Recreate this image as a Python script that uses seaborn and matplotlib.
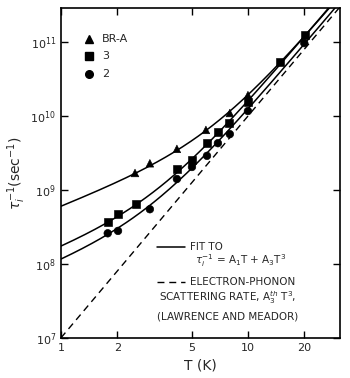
import numpy as np
import pandas as pd
import matplotlib
matplotlib.use("Agg")
import matplotlib.pyplot as plt
import seaborn as sns

# ---- data ----
T_bra = [2.49, 2.99, 4.17, 5.96, 8.0, 10.0]
rate_bra = [1.7e9, 2.3e9, 3.6e9, 6.5e9, 1.1e10, 1.92e10]

T_s3 = [1.78, 2.02, 2.52, 4.17, 5.02, 6.04, 6.91, 7.91, 10.0, 14.8, 20.2]
rate_s3 = [3.7e8, 4.7e8, 6.5e8, 1.92e9, 2.54e9, 4.3e9, 6.1e9, 8.0e9, 1.55e10, 5.4e10, 1.24e11]

T_s2 = [1.78, 2.02, 2.99, 4.17, 5.02, 6.04, 6.91, 8.0, 10.0, 20.0]
rate_s2 = [2.6e8, 2.8e8, 5.5e8, 1.41e9, 2.05e9, 2.9e9, 4.3e9, 5.7e9, 1.17e10, 9.7e10]

samples = ["BR-A", "3", "2"]
# fit parameters (A1, A3) for tau^-1 = A1 T + A3 T^3
A1_fit = [5.9e8, 1.6e8, 1.05e8]
A3_fit = [1.35e7, 1.45e7, 1.15e7]
A3_th = 1.0e7  # electron-phonon scattering rate coefficient

x_ticks = [1, 2, 5, 10, 20]
y_ticks = [1e7, 1e8, 1e9, 1e10, 1e11]
y_tick_labels = ["$10^{7}$", "$10^{8}$", "$10^{9}$", "$10^{10}$", "$10^{11}$"]

# ---- build tables ----
pts = pd.concat([
    pd.DataFrame({"T": T_bra, "rate": rate_bra, "sample": "BR-A"}),
    pd.DataFrame({"T": T_s3, "rate": rate_s3, "sample": "3"}),
    pd.DataFrame({"T": T_s2, "rate": rate_s2, "sample": "2"}),
])
Tgrid = np.geomspace(1, 32, 200)
fits = pd.concat([
    pd.DataFrame({"T": Tgrid, "rate": a1 * Tgrid + a3 * Tgrid**3, "sample": s})
    for s, a1, a3 in zip(samples, A1_fit, A3_fit)
])
theory = pd.DataFrame({"T": Tgrid, "rate": A3_th * Tgrid**3})

sns.set_theme(style="ticks")
plt.rcParams["font.family"] = ["DejaVu Sans"]

fig = plt.figure(figsize=(3.5, 3.78), dpi=100)
ax = fig.add_axes([0.174, 0.106, 0.797, 0.873])

sns.lineplot(data=fits, x="T", y="rate", units="sample", estimator=None,
             color="black", lw=1.1, ax=ax, legend=False)
sns.lineplot(data=theory, x="T", y="rate", color="black", lw=1.0,
             linestyle=(0, (5, 3.5)), ax=ax, legend=False)
sns.scatterplot(data=pts, x="T", y="rate", style="sample",
                markers={"BR-A": "^", "3": "s", "2": "o"},
                color="black", edgecolor="black", s=30, ax=ax, legend=False, zorder=3)

ax.set_xscale("log")
ax.set_yscale("log")
ax.set_xlim(1, 31)
ax.set_ylim(1e7, 2.9e11)
ax.set_xticks(x_ticks)
ax.set_xticklabels([str(v) for v in x_ticks], fontsize=8)
ax.set_yticks(y_ticks)
ax.set_yticklabels(y_tick_labels, fontsize=8)
ax.minorticks_off()
ax.tick_params(which="both", direction="in", top=True, right=True, length=5, width=1,
               color="black")
for sp in ax.spines.values():
    sp.set_linewidth(1.2)
    sp.set_color("black")

ax.set_xlabel("T (K)", fontsize=10, labelpad=4)
ax.set_ylabel(r"$\tau_i^{-1}$(sec$^{-1}$)", fontsize=10, labelpad=2)

# legend (markers) top-left
mk = {"BR-A": "^", "3": "s", "2": "o"}
for i, s in enumerate(samples):
    yy = 0.906 - i * 0.053
    ax.plot([0.100], [yy], marker=mk[s], color="black", ms=5.5, transform=ax.transAxes,
            ls="none")
    ax.text(0.148, yy, s, transform=ax.transAxes, va="center", ha="left", fontsize=8)

# legend (lines) lower-right
fs = 7.5
ax.plot([0.344, 0.444], [0.276, 0.276], color="black", lw=1.1, transform=ax.transAxes)
ax.text(0.462, 0.276, "FIT TO", transform=ax.transAxes, va="center", fontsize=fs)
ax.text(0.48, 0.233, r"$\tau_i^{-1}$ = A$_1$T + A$_3$T$^3$", transform=ax.transAxes,
        va="center", fontsize=fs)
ax.plot([0.344, 0.444], [0.170, 0.170], color="black", lw=1.0, linestyle=(0, (5, 3.5)),
        transform=ax.transAxes)
ax.text(0.462, 0.170, "ELECTRON-PHONON", transform=ax.transAxes, va="center", fontsize=fs)
ax.text(0.351, 0.121, r"SCATTERING RATE, A$_3^{th}$ T$^3$,", transform=ax.transAxes,
        va="center", fontsize=fs)
ax.text(0.344, 0.064, "(LAWRENCE AND MEADOR)", transform=ax.transAxes, va="center",
        fontsize=fs)

fig.savefig("out.png", dpi=100)
